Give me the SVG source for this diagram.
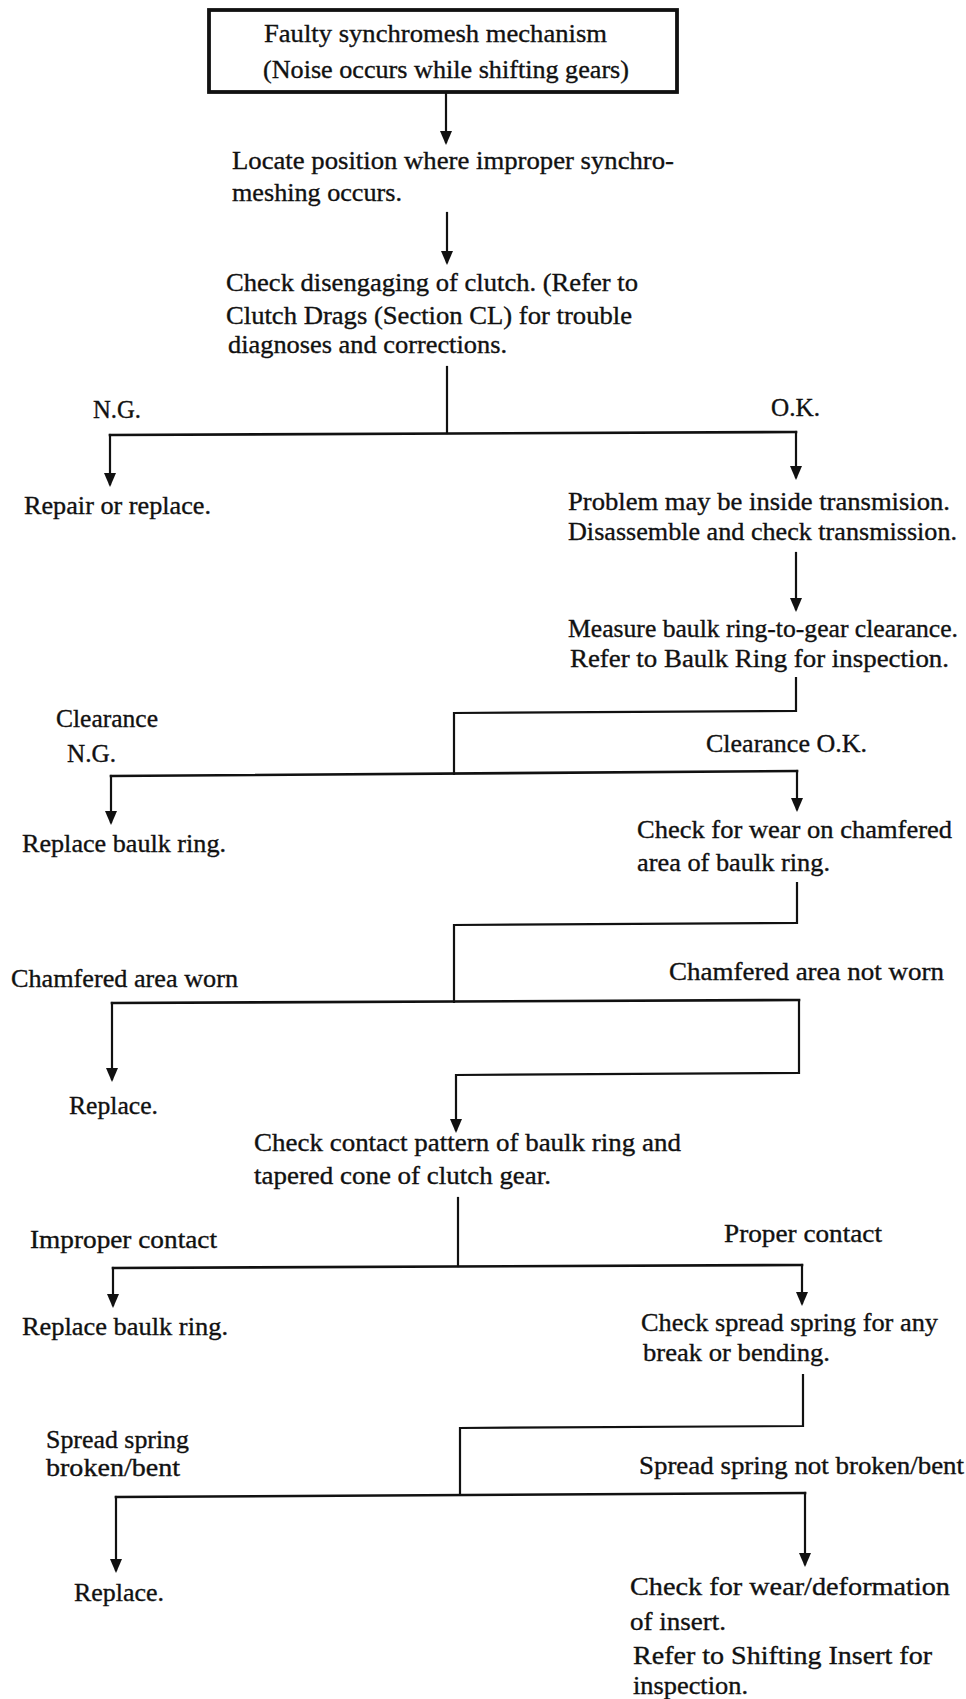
<svg xmlns="http://www.w3.org/2000/svg" width="966" height="1699" viewBox="0 0 966 1699">
<style>
text{font-family:"Liberation Serif","Times New Roman",serif;font-size:26px;fill:#111;stroke:#111;stroke-width:0.35}
.c{fill:none;stroke:#111;stroke-width:2.2;stroke-linejoin:miter;stroke-linecap:square}
.h{fill:none;stroke:#111;stroke-width:2.6;stroke-linecap:square}
.box{fill:#fff;stroke:#111;stroke-width:3.8}
</style>
<defs>
<marker id="ah" viewBox="0 0 14 12" refX="11" refY="6" markerWidth="14" markerHeight="12" markerUnits="userSpaceOnUse" orient="auto">
<path d="M0,0 L14,6 L0,12 z" fill="#111"/>
</marker>
</defs>
<rect width="966" height="1699" fill="#fff"/>

<g id="connectors">
<path class="c" d="M446,94 L446,142" marker-end="url(#ah)"/>
<path class="c" d="M447,213 L447,262" marker-end="url(#ah)"/>
<path class="c" d="M447,367 L447,433"/>
<path class="h" d="M110,435 L796,432"/>
<path class="c" d="M110,435 L110,484" marker-end="url(#ah)"/>
<path class="c" d="M796,432 L796,477" marker-end="url(#ah)"/>
<path class="c" d="M796,553 L796,609" marker-end="url(#ah)"/>
<path class="c" d="M796,678 L796,711 L454,713 L454,774"/>
<path class="h" d="M111,776 L797,771"/>
<path class="c" d="M111,776 L111,822" marker-end="url(#ah)"/>
<path class="c" d="M797,771 L797,809" marker-end="url(#ah)"/>
<path class="c" d="M797,883 L797,923 L454,925 L454,1002"/>
<path class="h" d="M112,1003 L799,1000"/>
<path class="c" d="M112,1003 L112,1079" marker-end="url(#ah)"/>
<path class="c" d="M799,1000 L799,1073 L456,1075 L456,1130" marker-end="url(#ah)"/>
<path class="c" d="M458,1198 L458,1266"/>
<path class="h" d="M113,1268 L802,1265"/>
<path class="c" d="M113,1268 L113,1305" marker-end="url(#ah)"/>
<path class="c" d="M802,1265 L802,1303" marker-end="url(#ah)"/>
<path class="c" d="M803,1375 L803,1426 L460,1428 L460,1495"/>
<path class="h" d="M116,1497 L805,1493"/>
<path class="c" d="M116,1497 L116,1570" marker-end="url(#ah)"/>
<path class="c" d="M805,1493 L805,1564" marker-end="url(#ah)"/>
</g>

<g id="edge-labels">
<text x="93" y="418" textLength="48" lengthAdjust="spacingAndGlyphs">N.G.</text>
<text x="771" y="416" textLength="49" lengthAdjust="spacingAndGlyphs">O.K.</text>
<text x="56" y="727" textLength="102" lengthAdjust="spacingAndGlyphs">Clearance</text>
<text x="67" y="762" textLength="49" lengthAdjust="spacingAndGlyphs">N.G.</text>
<text x="706" y="752" textLength="161" lengthAdjust="spacingAndGlyphs">Clearance O.K.</text>
<text x="11" y="987" textLength="227" lengthAdjust="spacingAndGlyphs">Chamfered area worn</text>
<text x="669" y="980" textLength="275" lengthAdjust="spacingAndGlyphs">Chamfered area not worn</text>
<text x="30" y="1248" textLength="187" lengthAdjust="spacingAndGlyphs">Improper contact</text>
<text x="724" y="1242" textLength="158" lengthAdjust="spacingAndGlyphs">Proper contact</text>
<text x="46" y="1448" textLength="143" lengthAdjust="spacingAndGlyphs">Spread spring</text>
<text x="46" y="1476" textLength="134" lengthAdjust="spacingAndGlyphs">broken/bent</text>
<text x="639" y="1474" textLength="325" lengthAdjust="spacingAndGlyphs">Spread spring not broken/bent</text>
</g>

<g id="n-start">
<rect class="box" x="209" y="10" width="468" height="82"/>
<text x="264" y="42" textLength="343" lengthAdjust="spacingAndGlyphs">Faulty synchromesh mechanism</text>
<text x="263" y="78" textLength="366" lengthAdjust="spacingAndGlyphs">(Noise occurs while shifting gears)</text>
</g>

<g id="n-locate">
<text x="232" y="169" textLength="442" lengthAdjust="spacingAndGlyphs">Locate position where improper synchro-</text>
<text x="232" y="201" textLength="170" lengthAdjust="spacingAndGlyphs">meshing occurs.</text>
</g>

<g id="n-clutch">
<text x="226" y="291" textLength="412" lengthAdjust="spacingAndGlyphs">Check disengaging of clutch. (Refer to</text>
<text x="226" y="324" textLength="406" lengthAdjust="spacingAndGlyphs">Clutch Drags (Section CL) for trouble</text>
<text x="228" y="353" textLength="279" lengthAdjust="spacingAndGlyphs">diagnoses and corrections.</text>
</g>

<g id="n-repair">
<text x="24" y="514" textLength="187" lengthAdjust="spacingAndGlyphs">Repair or replace.</text>
</g>

<g id="n-problem">
<text x="568" y="510" textLength="382" lengthAdjust="spacingAndGlyphs">Problem may be inside transmision.</text>
<text x="568" y="540" textLength="389" lengthAdjust="spacingAndGlyphs">Disassemble and check transmission.</text>
</g>

<g id="n-measure">
<text x="568" y="637" textLength="390" lengthAdjust="spacingAndGlyphs">Measure baulk ring-to-gear clearance.</text>
<text x="570" y="667" textLength="379" lengthAdjust="spacingAndGlyphs">Refer to Baulk Ring for inspection.</text>
</g>

<g id="n-replace-ring-1">
<text x="22" y="852" textLength="204" lengthAdjust="spacingAndGlyphs">Replace baulk ring.</text>
</g>

<g id="n-chamfer">
<text x="637" y="838" textLength="315" lengthAdjust="spacingAndGlyphs">Check for wear on chamfered</text>
<text x="637" y="871" textLength="193" lengthAdjust="spacingAndGlyphs">area of baulk ring.</text>
</g>

<g id="n-replace-1">
<text x="69" y="1114" textLength="89" lengthAdjust="spacingAndGlyphs">Replace.</text>
</g>

<g id="n-contact">
<text x="254" y="1151" textLength="427" lengthAdjust="spacingAndGlyphs">Check contact pattern of baulk ring and</text>
<text x="254" y="1184" textLength="297" lengthAdjust="spacingAndGlyphs">tapered cone of clutch gear.</text>
</g>

<g id="n-replace-ring-2">
<text x="22" y="1335" textLength="206" lengthAdjust="spacingAndGlyphs">Replace baulk ring.</text>
</g>

<g id="n-spring">
<text x="641" y="1331" textLength="297" lengthAdjust="spacingAndGlyphs">Check spread spring for any</text>
<text x="643" y="1361" textLength="187" lengthAdjust="spacingAndGlyphs">break or bending.</text>
</g>

<g id="n-replace-2">
<text x="74" y="1601" textLength="90" lengthAdjust="spacingAndGlyphs">Replace.</text>
</g>

<g id="n-insert">
<text x="630" y="1595" textLength="320" lengthAdjust="spacingAndGlyphs">Check for wear/deformation</text>
<text x="630" y="1630" textLength="96" lengthAdjust="spacingAndGlyphs">of insert.</text>
<text x="633" y="1664" textLength="299" lengthAdjust="spacingAndGlyphs">Refer to Shifting Insert for</text>
<text x="633" y="1694" textLength="115" lengthAdjust="spacingAndGlyphs">inspection.</text>
</g>
</svg>
